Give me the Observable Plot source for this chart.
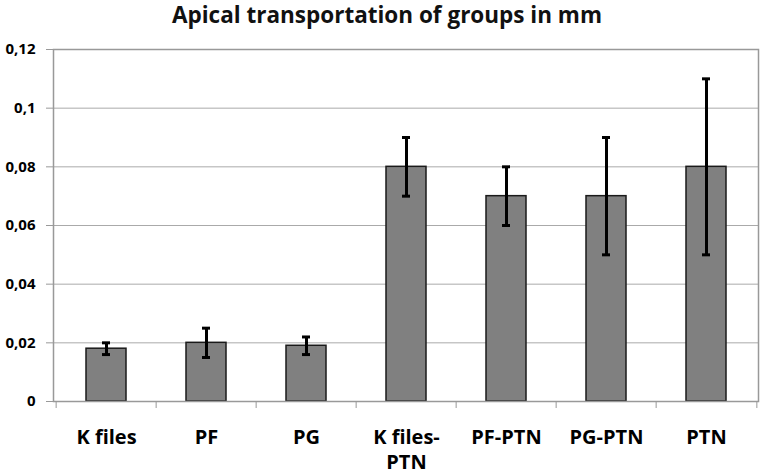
<!DOCTYPE html>
<html>
<head>
<meta charset="utf-8">
<script src="https://cdn.jsdelivr.net/npm/d3@7"></script>
<script src="https://cdn.jsdelivr.net/npm/@observablehq/plot@0.6"></script>
<style>
  body { margin: 0; background: #fff; font-family: "Open Sans", sans-serif; }
  #title { height: 38px; line-height: 30px; text-align: center; font-weight: bold; font-size: 22.5px; color: #111; padding-left: 8px; box-sizing: border-box; }
  #chart svg { display: block; }
</style>
</head>
<body>
<div id="title">Apical transportation of groups in mm</div>
<div id="chart"></div>
<script>
const categories = ["K files", "PF", "PG", "K files-PTN", "PF-PTN", "PG-PTN", "PTN"];
const xTickLabels = ["K files", "PF", "PG", "K files-\nPTN", "PF-PTN", "PG-PTN", "PTN"];
const means = [0.018, 0.020, 0.019, 0.08, 0.07, 0.07, 0.08];
const errLow = [0.016, 0.015, 0.016, 0.07, 0.06, 0.05, 0.05];
const errHigh = [0.020, 0.025, 0.022, 0.09, 0.08, 0.09, 0.11];
const yTicks = [0, 0.02, 0.04, 0.06, 0.08, 0.1, 0.12];
const yTickLabels = ["0", "0,02", "0,04", "0,06", "0,08", "0,1", "0,12"];

const data = categories.map((c, i) => ({cat: c, mean: means[i], low: errLow[i], high: errHigh[i]}));

const W = 766, H = 436, mL = 53, mR = 8, mT = 11, mB = 73;
const step = (W - mL - mR) / categories.length;

const chart = Plot.plot({
  width: W, height: H,
  marginLeft: mL, marginRight: mR, marginTop: mT, marginBottom: mB,
  style: {fontFamily: "'Open Sans', sans-serif", background: "#fff"},
  x: {type: "band", domain: categories, padding: 0, label: null},
  y: {domain: [0, 0.12], label: null},
  marks: [
    Plot.gridY(yTicks, {stroke: "#aaa", strokeOpacity: 1, strokeWidth: 1}),
    Plot.barY(data, {x: "cat", y: "mean", fill: "#808080", stroke: "#1a1a1a", strokeWidth: 1.5, insetLeft: 30, insetRight: 30}),
    Plot.frame({stroke: "#999", strokeWidth: 1.5}),
    Plot.ruleX(data, {x: "cat", y1: "low", y2: "high", stroke: "#000", strokeWidth: 3}),
    Plot.tickY(data, {x: "cat", y: "low", stroke: "#000", strokeWidth: 3, insetLeft: 46, insetRight: 46}),
    Plot.tickY(data, {x: "cat", y: "high", stroke: "#000", strokeWidth: 3, insetLeft: 46, insetRight: 46}),
    Plot.axisY(yTicks, {label: null, tickFormat: (d) => yTickLabels[yTicks.indexOf(d)], tickSize: 7, tickPadding: 11, fontSize: 15, fontWeight: "bold", stroke: "#999", fill: "#000"}),
    Plot.axisX(categories, {label: null, text: null, tickSize: 7, stroke: "#999", dx: -step / 2}),
    Plot.axisX([categories[categories.length - 1]], {label: null, text: null, tickSize: 7, stroke: "#999", dx: step / 2}),
    Plot.axisX(categories, {label: null, tickSize: 0, tickPadding: 25, fontSize: 20, fontWeight: "bold", lineHeight: 1.25, fill: "#000", tickFormat: d => xTickLabels[categories.indexOf(d)]})
  ]
});
document.getElementById("chart").appendChild(chart);
</script>
</body>
</html>
